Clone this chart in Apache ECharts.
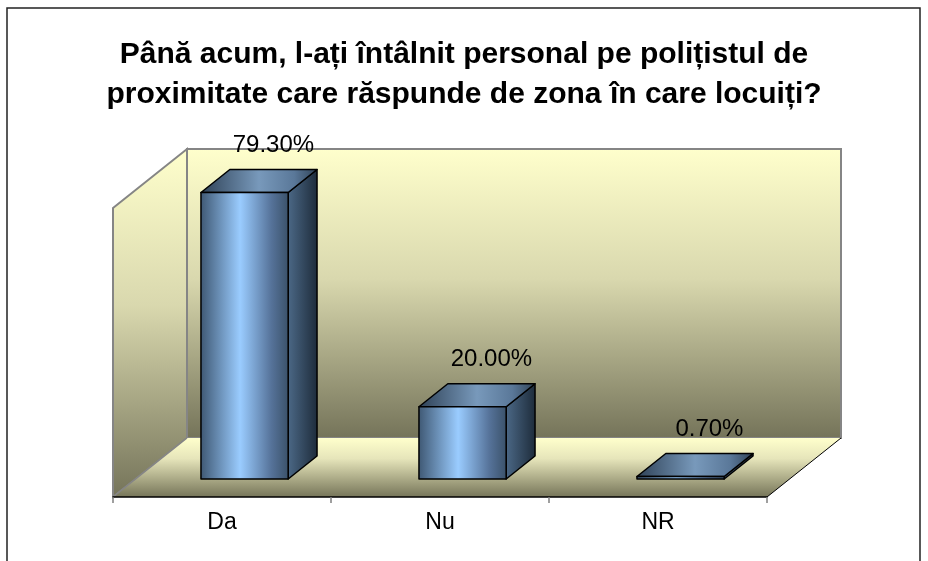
<!DOCTYPE html>
<html>
<head>
<meta charset="utf-8">
<script src="https://cdn.jsdelivr.net/npm/echarts@6/dist/echarts.min.js"></script>
<style>
  html, body { margin: 0; padding: 0; background: #fff; }
  #chart { width: 928px; height: 561px; }
</style>
</head>
<body>
<div id="chart"></div>
<script>
// date
const categories = ['Da', 'Nu', 'NR']
const values = [79.3, 20.0, 0.7]
const labels = ['79.30%', '20.00%', '0.70%']
const axisMax = 80

// adancimea 3D (pixeli)
const DX = 74
const DY = -59

const chart = echarts.init(document.getElementById('chart'))

// pereti + podea
function renderWalls(params, api) {
  const c0 = api.coord([0, 0])
  const band = api.size([1, 0])[0]
  const left = c0[0] - band / 2
  const right = left + band * categories.length
  const bottom = c0[1]
  const top = api.coord([0, axisMax])[1]
  const wallGrad = {
    type: 'linear', x: 0, y: 0, x2: 0, y2: 1,
    colorStops: [
      { offset: 0, color: '#FFFFCC' },
      { offset: 0.45, color: '#D9D8AE' },
      { offset: 1, color: '#747359' }
    ]
  }
  const floorGrad = {
    type: 'linear', x: 0, y: 0, x2: 0, y2: 1,
    colorStops: [
      { offset: 0, color: '#FFFFCC' },
      { offset: 0.35, color: '#E6E5BA' },
      { offset: 1, color: '#767559' }
    ]
  }
  return {
    type: 'group',
    children: [
      {
        type: 'polygon',
        shape: { points: [[left + DX, top + DY], [right + DX, top + DY], [right + DX, bottom + DY], [left + DX, bottom + DY]] },
        style: { fill: wallGrad, stroke: '#858585', lineWidth: 2 }
      },
      {
        type: 'polygon',
        shape: { points: [[left, top], [left + DX, top + DY], [left + DX, bottom + DY], [left, bottom]] },
        style: { fill: wallGrad, stroke: '#858585', lineWidth: 2 }
      },
      {
        type: 'polygon',
        shape: { points: [[left, bottom], [left + DX, bottom + DY], [right + DX, bottom + DY], [right, bottom]] },
        style: { fill: floorGrad }
      },
      {
        type: 'line',
        shape: { x1: left, y1: bottom, x2: left + DX, y2: bottom + DY },
        style: { stroke: '#858585', lineWidth: 1.5 }
      },
      {
        type: 'line',
        shape: { x1: right, y1: bottom, x2: right + DX, y2: bottom + DY },
        style: { stroke: '#000', lineWidth: 1 }
      }
    ]
  }
}

// coloane 3D
function renderBar(params, api) {
  const idx = api.value(0)
  const val = api.value(1)
  const base = api.coord([idx, 0])
  const topPt = api.coord([idx, val])
  const band = api.size([1, 0])[0]
  const w = band * 0.4
  const fx = DX * 0.305, fy = DY * 0.305
  const bx = DX * 0.39, by = DY * 0.39
  const x0 = base[0] - w / 2 + fx
  const x1 = x0 + w
  const y0 = base[1] + fy
  const y1 = topPt[1] + fy
  const outline = { stroke: '#000', lineWidth: 1.5, lineJoin: 'round' }
  return {
    type: 'group',
    children: [
      {
        type: 'polygon',
        shape: { points: [[x1, y1], [x1 + bx, y1 + by], [x1 + bx, y0 + by], [x1, y0]] },
        style: Object.assign({
          fill: {
            type: 'linear', x: 0, y: 0, x2: 1, y2: 0,
            colorStops: [
              { offset: 0, color: '#4C6987' },
              { offset: 1, color: '#1D2B3A' }
            ]
          }
        }, outline)
      },
      {
        type: 'polygon',
        shape: { points: [[x0, y1], [x1, y1], [x1 + bx, y1 + by], [x0 + bx, y1 + by]] },
        style: Object.assign({
          fill: {
            type: 'linear', x: 0, y: 0, x2: 1, y2: 0,
            colorStops: [
              { offset: 0, color: '#2E4156' },
              { offset: 0.5, color: '#7899BB' },
              { offset: 0.8, color: '#5A7899' },
              { offset: 1, color: '#2F4256' }
            ]
          }
        }, outline)
      },
      {
        type: 'rect',
        shape: { x: x0, y: y1, width: w, height: y0 - y1 },
        style: Object.assign({
          fill: {
            type: 'linear', x: 0, y: 0, x2: 1, y2: 0,
            colorStops: [
              { offset: 0, color: '#3E5772' },
              { offset: 0.45, color: '#9ACCFF' },
              { offset: 0.8, color: '#56739A' },
              { offset: 1, color: '#3A5169' }
            ]
          }
        }, outline)
      },
      {
        type: 'text',
        style: {
          text: labels[idx],
          x: (x0 + x1) / 2 + bx,
          y: y1 + by - 12,
          align: 'center',
          verticalAlign: 'bottom',
          fill: '#000',
          font: '24px "Liberation Sans", Arial, sans-serif'
        }
      }
    ]
  }
}

const option = {
  animation: false,
  title: {
    text: 'Până acum, l-ați întâlnit personal pe polițistul de\nproximitate care răspunde de zona în care locuiți?',
    left: 'center',
    top: 30,
    textStyle: {
      fontFamily: '"Liberation Sans", Arial, sans-serif',
      fontWeight: 'bold',
      fontSize: 30,
      lineHeight: 40,
      color: '#000'
    }
  },
  graphic: [
    {
      type: 'rect',
      shape: { x: 7, y: 8, width: 913, height: 600 },
      style: { fill: null, stroke: '#222', lineWidth: 1.5 },
      silent: true
    }
  ],
  grid: {
    left: 113,
    right: 161,
    top: 208,
    bottom: 64
  },
  xAxis: {
    type: 'category',
    data: categories,
    z: 5,
    axisLine: { show: true, lineStyle: { color: '#000', width: 1.5 } },
    axisTick: { show: true, length: 6, lineStyle: { color: '#808080', width: 1.5 } },
    axisLabel: {
      margin: 14,
      fontSize: 23,
      color: '#000',
      fontFamily: '"Liberation Sans", Arial, sans-serif'
    }
  },
  yAxis: {
    type: 'value',
    min: 0,
    max: axisMax,
    show: false
  },
  series: [
    {
      type: 'custom',
      name: 'walls',
      clip: false,
      silent: true,
      z: 1,
      renderItem: renderWalls,
      data: [[0, 0]]
    },
    {
      type: 'custom',
      name: 'bars',
      clip: false,
      z: 3,
      renderItem: renderBar,
      data: values.map((v, i) => [i, v])
    }
  ]
}

chart.setOption(option)
</script>
</body>
</html>
